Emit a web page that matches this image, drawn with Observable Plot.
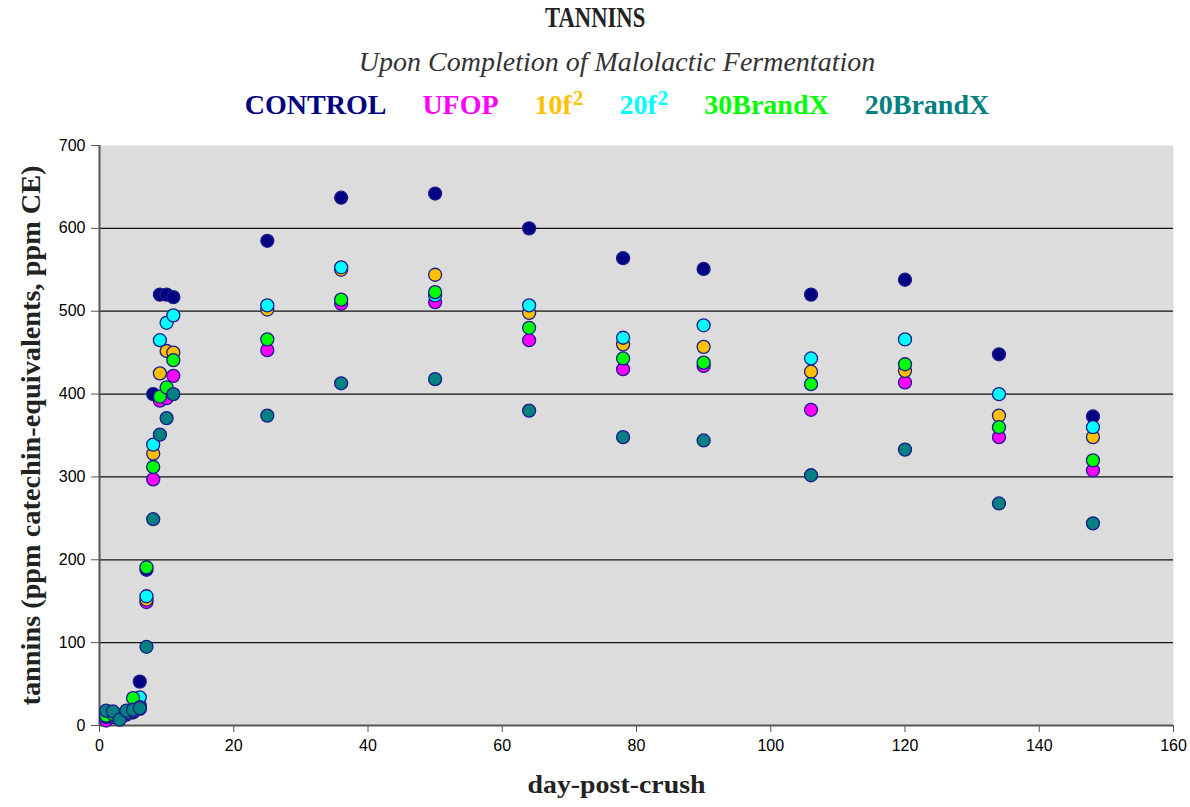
<!DOCTYPE html>
<html>
<head>
<meta charset="utf-8">
<script src="https://cdn.jsdelivr.net/npm/d3@7"></script>
<script src="https://cdn.jsdelivr.net/npm/@observablehq/plot@0.6"></script>
<style>
  html, body { margin: 0; padding: 0; background: #fff; }
  #wrap { width: 1190px; }
  #header { position: relative; width: 1190px; height: 125px; }
  #title { position: absolute; left: 0; width: 1190px; top: 1px; text-align: center; color: #222; }
  #title span { display: inline-block; font: bold 29px "Liberation Serif", serif; transform: scaleX(0.78); }
  #subtitle { position: absolute; left: 22px; width: 1190px; top: 46px; text-align: center;
    font: italic 28px "Liberation Serif", serif; color: #333; }
  #legend { position: absolute; left: 22px; width: 1190px; top: 89px; display: flex; justify-content: center; gap: 36px;
    font: bold 28px "Liberation Serif", serif; }
  #legend span { display: inline-block; }
  #legend sup { font-size: 21px; vertical-align: 9px; line-height: 0; margin-left: 1px; }
</style>
</head>
<body>
<div id="wrap">
  <div id="header">
    <div id="title"><span></span></div>
    <div id="subtitle"></div>
    <div id="legend"></div>
  </div>
  <div id="chart"></div>
</div>
<script>
// ---- data ----
const titleText = "TANNINS";
const subtitleText = "Upon Completion of Malolactic Fermentation";
const xLabel = "day-post-crush";
const yLabel = "tannins (ppm catechin-equivalents, ppm CE)";

const seriesNames = ["CONTROL", "UFOP", "10f2", "20f2", "30BrandX", "20BrandX"];
const seriesLabelsHtml = ["CONTROL", "UFOP", "10f<sup>2</sup>", "20f<sup>2</sup>", "30BrandX", "20BrandX"];
const seriesColors = ["#000080", "#FF00FF", "#FFC000", "#00FFFF", "#00FF00", "#008080"];

const days = [1, 2, 3, 4, 5, 6, 7, 8, 9, 10, 11, 25, 36, 50, 64, 78, 90, 106, 120, 134, 148];

const control   = [12, 14, 12, 15, 16, 53, 188, 400, 520, 520, 517, 585, 637, 642, 600, 564, 551, 520, 538, 448, 373];
const ufop      = [6, 10, 9, 13, 16, 20, 149, 297, 392, 395, 422, 453, 509, 511, 465, 430, 434, 381, 414, 348, 308];
const f10       = [10, 12, 10, 14, 17, 24, 152, 328, 425, 452, 450, 502, 550, 544, 498, 460, 457, 427, 428, 374, 348];
const f20       = [11, 13, 11, 15, 18, 34, 156, 339, 465, 486, 495, 507, 553, 519, 507, 468, 483, 443, 466, 400, 360];
const brandX30  = [12, 14, 10, 16, 33, 22, 191, 312, 397, 408, 441, 466, 514, 523, 480, 443, 438, 412, 436, 360, 320];
const brandX20  = [18, 17, 7, 18, 19, 21, 95, 249, 351, 371, 400, 374, 413, 418, 380, 348, 344, 302, 333, 268, 244];

const xTicks = [0, 20, 40, 60, 80, 100, 120, 140, 160];
const yTicks = [0, 100, 200, 300, 400, 500, 600, 700];
const yGrid = [100, 200, 300, 400, 500, 600];

// ---- build table ----
const allSeries = [control, ufop, f10, f20, brandX30, brandX20];
const rows = [];
seriesNames.forEach((name, i) => {
  allSeries[i].forEach((v, j) => rows.push({series: name, day: days[j], value: v}));
});

// ---- header ----
document.querySelector("#title span").textContent = titleText;
document.getElementById("subtitle").textContent = subtitleText;
const legend = document.getElementById("legend");
seriesNames.forEach((n, i) => {
  const s = document.createElement("span");
  s.innerHTML = seriesLabelsHtml[i];
  s.style.color = seriesColors[i];
  legend.appendChild(s);
});

// ---- chart ----
const chart = Plot.plot({
  width: 1190,
  height: 682,
  marginTop: 20,
  marginBottom: 82,
  marginLeft: 99,
  marginRight: 17,
  style: { background: "#fff", color: "#000", fontFamily: "Liberation Sans, Arial, sans-serif", fontSize: "16px", overflow: "visible" },
  x: { domain: [0, 160] },
  y: { domain: [0, 700] },
  color: { domain: seriesNames, range: seriesColors },
  marks: [
    Plot.frame({ fill: "#DCDCDC", stroke: null }),
    Plot.gridY(yGrid, { stroke: "#111", strokeOpacity: 1, strokeWidth: 1.2 }),
    Plot.ruleX([0], { stroke: "#555", strokeWidth: 2 }),
    Plot.ruleY([0], { stroke: "#555", strokeWidth: 2 }),
    Plot.axisX({ ticks: xTicks, tickSize: 7, tickPadding: 7, label: null, fontSize: 16, stroke: "#555" }),
    Plot.axisY({ ticks: yTicks, tickSize: 8, tickPadding: 6, label: null, fontSize: 16, stroke: "#555" }),
    Plot.dot(rows, { x: "day", y: "value", fill: "series", r: 6.5, stroke: "#1c1c8a", strokeWidth: 1.3 }),
    Plot.text([xLabel], { text: d => d, frameAnchor: "bottom", textAnchor: "middle", dy: 67, dx: -20, fontSize: 26, fontWeight: "bold", fontFamily: "Liberation Serif, serif", fill: "#222" }),
    Plot.text([yLabel], { text: d => d, frameAnchor: "left", textAnchor: "middle", rotate: -90, dx: -68, fontSize: 27, fontWeight: "bold", fontFamily: "Liberation Serif, serif", fill: "#222" })
  ]
});
// condense the serif axis titles to the reference's narrower face
d3.select(chart).selectAll("text").each(function() {
  const t = this.textContent;
  if (t === yLabel) d3.select(this).attr("textLength", 540).attr("lengthAdjust", "spacingAndGlyphs");
  if (t === xLabel) d3.select(this).attr("textLength", 178).attr("lengthAdjust", "spacingAndGlyphs");
});
document.getElementById("chart").appendChild(chart);
</script>
</body>
</html>
